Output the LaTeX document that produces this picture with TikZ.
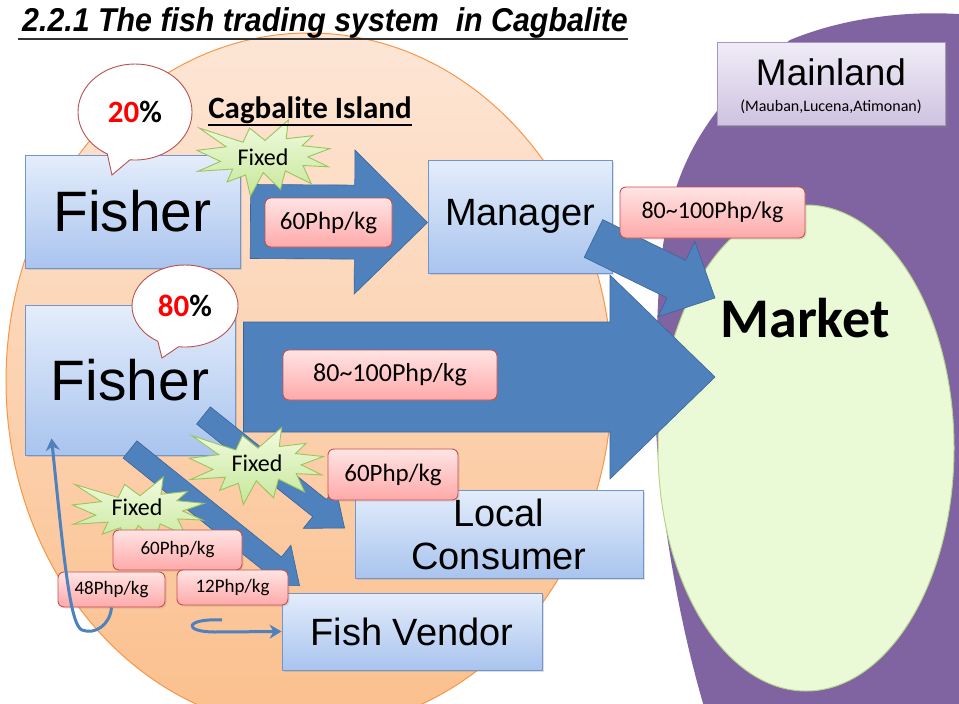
\documentclass[tikz,border=0pt]{standalone}
\usepackage{graphicx}
\usepackage{fontspec}
\setmainfont{Carlito}
\newfontfamily\arialfont{Liberation Sans}
\usetikzlibrary{calc,shapes.geometric,shapes.callouts,shadows,arrows.meta}

\definecolor{arrowblue}{HTML}{4F81BD}
\definecolor{arrowedge}{HTML}{3A6597}
\definecolor{boxtop}{HTML}{E4EDFB}
\definecolor{boxbot}{HTML}{A9C4EE}
\definecolor{boxedge}{HTML}{6F96CF}
\definecolor{pinktop}{HTML}{FFE4E4}
\definecolor{pinkbot}{HTML}{FFA9A9}
\definecolor{pinkedge}{HTML}{C9504E}
\definecolor{startop}{HTML}{F1FBDF}
\definecolor{starbot}{HTML}{C6E79A}
\definecolor{staredge}{HTML}{9BC45C}
\definecolor{islandtop}{HTML}{FDE6D6}
\definecolor{islandbot}{HTML}{FBBF8C}
\definecolor{islandedge}{HTML}{F79646}
\definecolor{mainpurple}{HTML}{8064A2}
\definecolor{marketfill}{HTML}{EBFAD6}
\definecolor{marketedge}{HTML}{B8D48C}
\definecolor{mltop}{HTML}{F0ECF7}
\definecolor{mlbot}{HTML}{CFC3E0}
\definecolor{mledge}{HTML}{A895C4}
\definecolor{bubbleedge}{HTML}{B9514F}

\pgfdeclarelayer{fondo}
\pgfdeclarelayer{flechas}
\pgfsetlayers{fondo,flechas,main}

% flecha gruesa: inicio, punta, medio ancho, medio ancho punta, largo punta
\newcommand{\blockflow}[5]{%
  \path ($(#2)!#5!(#1)$) coordinate (bf-base);
  \draw[flowblock] ($(#1)!#3!90:(#2)$) -- ($(bf-base)!#3!90:(#2)$) -- ($(bf-base)!#4!90:(#2)$) -- (#2)
    -- ($(bf-base)!#4!-90:(#2)$) -- ($(bf-base)!#3!-90:(#2)$) -- ($(#1)!#3!-90:(#2)$) -- cycle;
}

\begin{document}
\begin{tikzpicture}[x=1pt, y=-1pt,
    fishbox/.style={draw=boxedge, line width=0.9pt, top color=boxtop, bottom color=boxbot,
      align=center, inner sep=0pt, drop shadow={opacity=0.25, shadow xshift=2pt, shadow yshift=-2pt}},
    mlbox/.style={draw=mledge, line width=0.9pt, top color=mltop, bottom color=mlbot,
      align=center, inner sep=0pt, drop shadow={opacity=0.4, shadow xshift=3pt, shadow yshift=-3pt}},
    price/.style={draw=pinkedge, line width=0.9pt, rounded corners=6pt, top color=pinktop, bottom color=pinkbot,
      inner sep=0pt, drop shadow={opacity=0.2, shadow xshift=1.5pt, shadow yshift=-1.5pt}},
    bubble/.style={ellipse callout, draw=bubbleedge, fill=white, line width=0.9pt, callout pointer arc=24,
      inner sep=0pt, font=\bfseries\fontsize{31}{31}\selectfont},
    burst/.style={top color=startop, bottom color=starbot, draw=staredge, line width=0.9pt},
    fixtxt/.style={inner sep=0pt, font=\fontsize{24}{24}\selectfont},
    flowblock/.style={fill=arrowblue, draw=arrowedge, line width=0.6pt},
    bentarrow/.style={draw=arrowblue, line width=3pt, -{Stealth[length=12pt,width=14pt]}},
    bigtxt/.style={font=\arialfont\fontsize{38}{43}\selectfont},
    fishtxt/.style={font=\arialfont\fontsize{57}{57}\selectfont},
    fixedburst/.pic={
      \shade[burst] (0,-0.2315) -- (0.1723,-0.5) -- (0.1553,-0.2535) -- (0.3509,-0.2937) -- (0.2732,-0.1613)
        -- (0.4767,-0.1233) -- (0.3151,-0.0150) -- (0.4656,0.1153) -- (0.2795,0.0992) -- (0.3400,0.3377)
        -- (0.1491,0.1693) -- (0.1133,0.4137) -- (-0.0124,0.1914) -- (-0.1072,0.5) -- (-0.1428,0.2235)
        -- (-0.2795,0.3156) -- (-0.2376,0.1452) -- (-0.4938,0.1753) -- (-0.3277,0.0451) -- (-0.5,-0.1012)
        -- (-0.2858,-0.1474) -- (-0.4829,-0.3937) -- (-0.1615,-0.2074) -- (-0.1133,-0.3937) -- cycle;
    }
  ]
\useasboundingbox (0,0) rectangle (959,704);

% Fondo: tierra firme, isla y mercado
\begin{pgfonlayer}{fondo}
  \begin{scope}
    \clip (0,0) rectangle (959,704);
    \fill[mainpurple] (705,710) .. controls (672,600) and (650,450) .. (656,360)
      .. controls (660,230) and (660,140) .. (790,40) .. controls (850,15) and (920,10) .. (970,15)
      -- (970,710) -- cycle;
    \shade[top color=islandtop, bottom color=islandbot, draw=islandedge, line width=1pt]
      (309,381) ellipse [x radius=303, y radius=348];
    \node[ellipse, fill=marketfill, draw=marketedge, line width=1pt, minimum width=296pt, minimum height=486pt] (market) at (806,448) {};
  \end{scope}
\end{pgfonlayer}

% Titulo
\node[anchor=base west, inner sep=0pt, font=\arialfont\bfseries\itshape\fontsize{33}{33}\selectfont] (title) at (22,31)
  {\scalebox{0.92}[1]{2.2.1 The fish trading system\ \ in Cagbalite}};
\draw[line width=2pt, black!80] ([xshift=-4pt,yshift=-8pt]title.base west) -- ([yshift=-8pt]title.base east);

% Cajas
\node[fishbox, fishtxt, minimum width=215pt, minimum height=113pt] (fisherA) at (132.5,211.5) {Fisher};
\node[fishbox, fishtxt, minimum width=210pt, minimum height=150pt] (fisherB) at (130,380) {Fisher};
\node[fishbox, bigtxt, minimum width=184pt, minimum height=113pt] (manager) at (520,216.5) {Manager};
\node[fishbox, bigtxt, minimum width=288pt, minimum height=88pt] (consumer) at (499,534) {Local\\Consumer};
\node[fishbox, bigtxt, minimum width=260pt, minimum height=77pt] (vendor) at (412,631.5) {Fish Vendor};
\node[mlbox, minimum width=228pt, minimum height=83pt, font=\arialfont\fontsize{37}{30}\selectfont] (mainland) at (831,83.5)
  {\rule{0pt}{33pt}Mainland\\[-4pt]{\normalfont\fontsize{16}{16}\selectfont (Mauban,Lucena,Atimonan)}};

% Flechas gruesas
\coordinate (a1start) at ([xshift=10pt,yshift=-10pt]fisherA.east);
\coordinate (a1tip) at ([yshift=-6pt]manager.west);
\coordinate (bigstart) at ([xshift=8pt,yshift=3pt]fisherB.east);
\coordinate (bigtip) at (715,377);
\begin{pgfonlayer}{flechas}
  \blockflow{bigstart}{bigtip}{55pt}{102pt}{105pt}
  \blockflow{a1start}{a1tip}{37pt}{72pt}{73pt}
\end{pgfonlayer}
\coordinate (a2start) at ([xshift=-19pt,yshift=35pt]manager.south east);
\coordinate (a2tip) at (715,298);
\blockflow{a2start}{a2tip}{21pt}{42pt}{43pt}
\coordinate (a3start) at ([xshift=-32pt,yshift=40pt]fisherB.south east);
\coordinate (a3tip) at ([xshift=-10pt,yshift=6pt]consumer.west);
\coordinate (a4start) at ([yshift=6pt]fisherB.south);
\coordinate (a4tip) at ([xshift=18pt,yshift=7pt]vendor.north west);
\blockflow{a3start}{a3tip}{11pt}{26pt}{32pt}
\blockflow{a4start}{a4tip}{11pt}{26pt}{32pt}

% Estrellas
\pic[xscale=136, yscale=76] at (265,158) {fixedburst};
\node[fixtxt] (fixA) at (263,157) {Fixed};
\pic[xscale=137, yscale=77] at (258,466) {fixedburst};
\node[fixtxt] (fixB) at (257,463) {Fixed};
\pic[xscale=135, yscale=70] at (140,512) {fixedburst};
\node[fixtxt] (fixC) at (137,507) {Fixed};

% Precios
\node[price, minimum width=127pt, minimum height=49pt, font=\fontsize{25}{25}\selectfont] (pA) at (328.5,222.5) {60Php/kg};
\node[price, minimum width=185pt, minimum height=51pt, font=\fontsize{24}{24}\selectfont] (pB) at (712.5,212.5) {80\textasciitilde100Php/kg};
\node[price, minimum width=214pt, minimum height=50pt, font=\fontsize{26}{26}\selectfont] (pC) at (390,375) {80\textasciitilde100Php/kg};
\node[price, minimum width=130pt, minimum height=51pt, font=\fontsize{25}{25}\selectfont] (pD) at (393,474.5) {60Php/kg};
\node[price, minimum width=129pt, minimum height=40pt, font=\fontsize{19}{19}\selectfont] (pE) at (177.5,550) {60Php/kg};
\node[price, minimum width=107pt, minimum height=35pt, font=\fontsize{19}{19}\selectfont] (pF) at (111.5,589.5) {48Php/kg};
\node[price, minimum width=111pt, minimum height=35pt, font=\fontsize{19}{19}\selectfont] (pG) at (232.5,587.5) {12Php/kg};

% Globos
\node[bubble, minimum width=114pt, minimum height=96pt, callout absolute pointer={(112,175)}] (pctA) at (135,112) {\textcolor{red}{20}\%};
\node[bubble, minimum width=106pt, minimum height=82pt, callout absolute pointer={(162,358)}] (pctB) at (185,306) {\textcolor{red}{80}\%};

% Textos
\node[anchor=base, inner sep=0pt, font=\bfseries\fontsize{31}{31}\selectfont] (island) at (310,118) {Cagbalite Island};
\draw[line width=1.5pt] ([yshift=-7pt]island.base west) -- ([yshift=-7pt]island.base east);
\node[anchor=base, inner sep=0pt, font=\bfseries\fontsize{56}{56}\selectfont] (mkt) at (805,337) {Market};

% Flechas finas
\draw[bentarrow] (pF.south) .. controls (110,625) and (95,635) .. (82,630)
  .. controls (70,625) and (64,560) .. ([xshift=27pt,yshift=17pt]fisherB.south west);
\coordinate (hookstart) at (222,620);
\draw[bentarrow] (hookstart) .. controls (185,618) and (182,632) .. (215,632) -- (vendor.west);
\end{tikzpicture}
\end{document}
